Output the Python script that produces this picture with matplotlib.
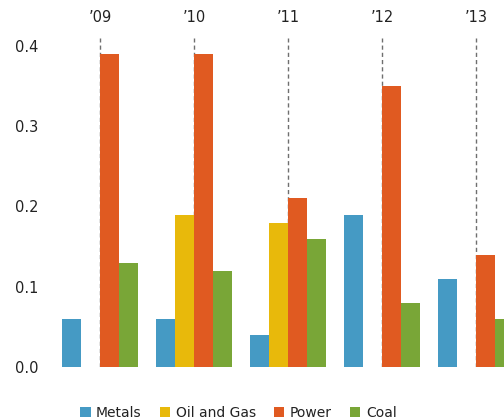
import matplotlib
matplotlib.use("Agg")
import matplotlib.pyplot as plt
import numpy as np

years = ["’09", "’10", "’11", "’12", "’13"]
series = ["Metals", "Oil and Gas", "Power", "Coal"]
metals = [0.06, 0.06, 0.04, 0.19, 0.11]
oil_gas = [0.0, 0.19, 0.18, 0.0, 0.0]
power = [0.39, 0.39, 0.21, 0.35, 0.14]
coal = [0.13, 0.12, 0.16, 0.08, 0.06]
yticks = [0.0, 0.1, 0.2, 0.3, 0.4]
ytick_labels = ["0.0", "0.1", "0.2", "0.3", "0.4"]

colors = ["#459AC4", "#E8B90B", "#E05A21", "#79A637"]

plt.rcParams['font.family'] = ['DejaVu Sans']
fig = plt.figure(figsize=(5.04, 4.17), dpi=100)
W, H = 504, 417
ax = fig.add_axes([50 / W, (H - 367) / H, (W - 50) / W, (367 - 38) / H])

x = np.arange(len(years))
w = 0.2
data = [metals, oil_gas, power, coal]
offsets = [-1.5, -0.5, 0.5, 1.5]
handles = []
for vals, off, col, name in zip(data, offsets, colors, series):
    b = ax.bar(x + off * w, vals, width=w, color=col, label=name, zorder=2, linewidth=0)
    handles.append(b)

for xi in x:
    ax.axvline(xi, color="#6f6f6f", linestyle=(0, (3, 2.2)), linewidth=1.0, zorder=1)

ax.set_xlim((50 - 100) / 94, (504 - 100) / 94)
ax.set_ylim(0, (367 - 38) / 802.5)

ax.set_yticks(yticks)
ax.set_yticklabels(ytick_labels)
ax.xaxis.tick_top()
ax.set_xticks(x)
ax.set_xticklabels(years)
ax.tick_params(axis='both', length=0, labelsize=10.5, colors="#222222")
ax.tick_params(axis='x', pad=9)
ax.tick_params(axis='y', pad=8.5)
for s in ax.spines.values():
    s.set_visible(False)

fig.legend(handles=handles, labels=series, loc='upper center',
           bbox_to_anchor=(0.473, (H - 400) / H), ncol=4, frameon=False,
           fontsize=10, handlelength=0.75, handleheight=0.75,
           handletextpad=0.4, columnspacing=1.3, borderaxespad=0,
           labelcolor="#222222")

fig.savefig("out.png", dpi=100)
